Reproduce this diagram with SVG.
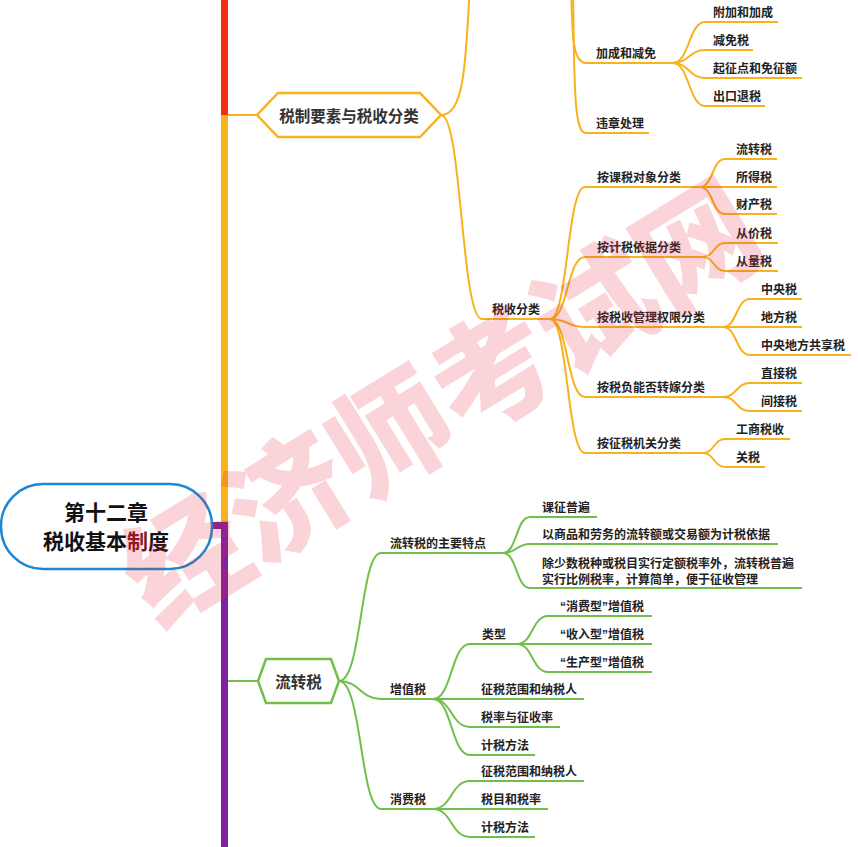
<svg xmlns="http://www.w3.org/2000/svg" width="858" height="847" viewBox="0 0 858 847">
<style>
.o{fill:none;stroke:#F8B21C;stroke-width:2}
.g{fill:none;stroke:#6FBF4A;stroke-width:2}
.t{font-family:"Noto Sans CJK SC","Liberation Sans",sans-serif;font-size:12px;font-weight:bold;fill:#222}
.q{font-family:"Liberation Sans",sans-serif}
.h{font-family:"Noto Sans CJK SC","Liberation Sans",sans-serif;font-size:15.5px;font-weight:bold;fill:#333;text-anchor:middle;dominant-baseline:central}
</style>
<rect width="858" height="847" fill="#fff"/>
<g id="trunk">
<rect x="221" y="0" width="7" height="118" fill="#F2300F"/>
<rect x="221" y="115" width="7" height="408" fill="#F8B21C"/>
<rect x="212" y="522" width="16" height="7" fill="#7E22A3"/>
<rect x="221" y="522" width="7" height="330" fill="#7E22A3"/>
</g>
<g id="connectors">
<path class="o" d="M228,115 H258"/>
<path class="o" d="M441,115 C463,115 466,70 470,-20"/>
<path class="o" d="M441,115 C462,115 461,319 482,319"/>
<path class="o" d="M571,-20 C572,40 573,63 586,63"/>
<path class="o" d="M573,-20 C574,100 575,133 586,133"/>
<path class="o" d="M673,63 C689,63 689,22 705,22"/>
<path class="o" d="M673,63 C689,63 689,50 705,50"/>
<path class="o" d="M673,63 C689,63 689,78 705,78"/>
<path class="o" d="M673,63 C689,63 689,106 705,106"/>
<path class="o" d="M550,319 C568,319 567,187 585,187"/>
<path class="o" d="M550,319 C568,319 567,257 585,257"/>
<path class="o" d="M550,319 C568,319 567,327 585,327"/>
<path class="o" d="M550,319 C568,319 567,397 585,397"/>
<path class="o" d="M550,319 C568,319 567,453 585,453"/>
<path class="o" d="M700,187 C713,187 712,159 725,159"/>
<path class="o" d="M700,187 H725"/>
<path class="o" d="M700,187 C713,187 712,214 725,214"/>
<path class="o" d="M703,257 C714,257 714,243 725,243"/>
<path class="o" d="M703,257 C714,257 714,271 725,271"/>
<path class="o" d="M723,327 C737,327 736,299 750,299"/>
<path class="o" d="M723,327 H750"/>
<path class="o" d="M723,327 C737,327 736,355 750,355"/>
<path class="o" d="M723,397 C737,397 736,383 750,383"/>
<path class="o" d="M723,397 C737,397 736,411 750,411"/>
<path class="o" d="M703,453 C714,453 714,439 725,439"/>
<path class="o" d="M703,453 C714,453 714,467 725,467"/>
<path class="g" d="M228,681 H258"/>
<path class="g" d="M339,681 C362,681 360,553 381,553"/>
<path class="g" d="M339,681 C360,681 360,699 381,699"/>
<path class="g" d="M339,681 C362,681 360,809 381,809"/>
<path class="g" d="M503,553 C517,553 516,517 530,517"/>
<path class="g" d="M503,553 C517,553 516,544 530,544"/>
<path class="g" d="M503,553 C517,553 516,588 530,588"/>
<path class="g" d="M433,699 C452,699 451,644 470,644"/>
<path class="g" d="M433,699 H470"/>
<path class="g" d="M433,699 C452,699 451,727 470,727"/>
<path class="g" d="M433,699 C452,699 451,755 470,755"/>
<path class="g" d="M517,644 C533,644 532,616 548,616"/>
<path class="g" d="M517,644 H548"/>
<path class="g" d="M517,644 C533,644 532,672 548,672"/>
<path class="g" d="M433,809 C452,809 451,781 470,781"/>
<path class="g" d="M433,809 H470"/>
<path class="g" d="M433,809 C452,809 451,837 470,837"/>
</g>
<g id="root">
<rect x="1" y="484" width="211" height="85" rx="42" ry="42" fill="#fff" stroke="#1C88D4" stroke-width="2.5"/>
<text x="106" y="520" font-family="Noto Sans CJK SC, sans-serif" font-size="21" font-weight="bold" fill="#111" text-anchor="middle">第十二章</text>
<text x="106" y="549" font-family="Noto Sans CJK SC, sans-serif" font-size="21" font-weight="bold" fill="#111" text-anchor="middle">税收基本<tspan fill="#7A1424">制</tspan>度</text>
</g>
<g id="n-shuizhi">
<polygon points="257,115 278,93 420,93 441,115 420,137 278,137" fill="#fff" stroke="#F8B21C" stroke-width="2.5"/>
<text class="h" x="349" y="115">税制要素与税收分类</text>
</g>
<g id="n-jiacheng"><path class="o" d="M586,63 H673"/><text class="t" x="596" y="58">加成和减免</text></g>
<g id="n-weizhang"><path class="o" d="M586,133 H649"/><text class="t" x="596" y="128">违章处理</text></g>
<g id="n-fujia"><path class="o" d="M705,22 H778"/><text class="t" x="713" y="17">附加和加成</text></g>
<g id="n-jianmian"><path class="o" d="M705,50 H753"/><text class="t" x="713" y="45">减免税</text></g>
<g id="n-qizheng"><path class="o" d="M705,78 H802"/><text class="t" x="713" y="73">起征点和免征额</text></g>
<g id="n-chukou"><path class="o" d="M705,106 H765"/><text class="t" x="713" y="101">出口退税</text></g>
<g id="n-shuishoufenlei"><path class="o" d="M482,319 H550"/><text class="t" x="492" y="314">税收分类</text></g>
<g id="n-kesui"><path class="o" d="M585,187 H700"/><text class="t" x="597" y="182">按课税对象分类</text></g>
<g id="n-liuzhuan-o"><path class="o" d="M725,159 H777"/><text class="t" x="736" y="154">流转税</text></g>
<g id="n-suode"><path class="o" d="M725,187 H777"/><text class="t" x="736" y="182">所得税</text></g>
<g id="n-caichan"><path class="o" d="M725,214 H777"/><text class="t" x="736" y="209">财产税</text></g>
<g id="n-jisui"><path class="o" d="M585,257 H703"/><text class="t" x="597" y="252">按计税依据分类</text></g>
<g id="n-congjia"><path class="o" d="M725,243 H778"/><text class="t" x="736" y="238">从价税</text></g>
<g id="n-congliang"><path class="o" d="M725,271 H778"/><text class="t" x="736" y="266">从量税</text></g>
<g id="n-guanli"><path class="o" d="M585,327 H723"/><text class="t" x="597" y="322">按税收管理权限分类</text></g>
<g id="n-zhongyang"><path class="o" d="M750,299 H802"/><text class="t" x="761" y="294">中央税</text></g>
<g id="n-difang"><path class="o" d="M750,327 H802"/><text class="t" x="761" y="322">地方税</text></g>
<g id="n-gongxiang"><path class="o" d="M750,355 H851"/><text class="t" x="761" y="350">中央地方共享税</text></g>
<g id="n-zhuanjia"><path class="o" d="M585,397 H723"/><text class="t" x="597" y="392">按税负能否转嫁分类</text></g>
<g id="n-zhijie"><path class="o" d="M750,383 H802"/><text class="t" x="761" y="378">直接税</text></g>
<g id="n-jianjie"><path class="o" d="M750,411 H802"/><text class="t" x="761" y="406">间接税</text></g>
<g id="n-jiguan"><path class="o" d="M585,453 H703"/><text class="t" x="597" y="448">按征税机关分类</text></g>
<g id="n-gongshang"><path class="o" d="M725,439 H790"/><text class="t" x="736" y="434">工商税收</text></g>
<g id="n-guanshui"><path class="o" d="M725,467 H765"/><text class="t" x="736" y="462">关税</text></g>
<g id="n-liuzhuanshui">
<polygon points="258,681 266,659 331,659 339,681 331,703 266,703" fill="#fff" stroke="#6FBF4A" stroke-width="2.5"/>
<text class="h" x="298.5" y="681">流转税</text>
</g>
<g id="n-tedian"><path class="g" d="M381,553 H503"/><text class="t" x="390" y="548">流转税的主要特点</text></g>
<g id="n-kezheng"><path class="g" d="M530,517 H597"/><text class="t" x="542" y="512">课征普遍</text></g>
<g id="n-yishangpin"><path class="g" d="M530,544 H778"/><text class="t" x="542" y="539">以商品和劳务的流转额或交易额为计税依据</text></g>
<g id="n-chushaoshu"><path class="g" d="M530,588 H802"/><text class="t" x="542" y="568">除少数税种或税目实行定额税率外，流转税普遍</text><text class="t" x="542" y="584">实行比例税率，计算简单，便于征收管理</text></g>
<g id="n-zengzhi"><path class="g" d="M381,699 H433"/><text class="t" x="390" y="694">增值税</text></g>
<g id="n-leixing"><path class="g" d="M470,644 H517"/><text class="t" x="482" y="639">类型</text></g>
<g id="n-xiaofeixing"><path class="g" d="M548,616 H652"/><text class="t" x="560" y="611"><tspan class="q">“</tspan>消费型<tspan class="q">”</tspan>增值税</text></g>
<g id="n-shouruxing"><path class="g" d="M548,644 H652"/><text class="t" x="560" y="639"><tspan class="q">“</tspan>收入型<tspan class="q">”</tspan>增值税</text></g>
<g id="n-shengchanxing"><path class="g" d="M548,672 H652"/><text class="t" x="560" y="667"><tspan class="q">“</tspan>生产型<tspan class="q">”</tspan>增值税</text></g>
<g id="n-zz-fanwei"><path class="g" d="M470,699 H584"/><text class="t" x="481" y="694">征税范围和纳税人</text></g>
<g id="n-zz-shuilv"><path class="g" d="M470,727 H560"/><text class="t" x="481" y="722">税率与征收率</text></g>
<g id="n-zz-fangfa"><path class="g" d="M470,755 H535"/><text class="t" x="481" y="750">计税方法</text></g>
<g id="n-xiaofei"><path class="g" d="M381,809 H433"/><text class="t" x="390" y="804">消费税</text></g>
<g id="n-xf-fanwei"><path class="g" d="M470,781 H584"/><text class="t" x="481" y="776">征税范围和纳税人</text></g>
<g id="n-xf-shuimu"><path class="g" d="M470,809 H548"/><text class="t" x="481" y="804">税目和税率</text></g>
<g id="n-xf-fangfa"><path class="g" d="M470,837 H535"/><text class="t" x="481" y="832">计税方法</text></g>
<g id="watermark">
<text x="437" y="396" transform="rotate(-31.6 437 396)" text-anchor="middle" dominant-baseline="central" font-family="Noto Sans CJK SC, sans-serif" font-size="120" font-weight="900" fill="#E8283C" fill-opacity="0.2">经济师考试网</text>
</g>
</svg>
